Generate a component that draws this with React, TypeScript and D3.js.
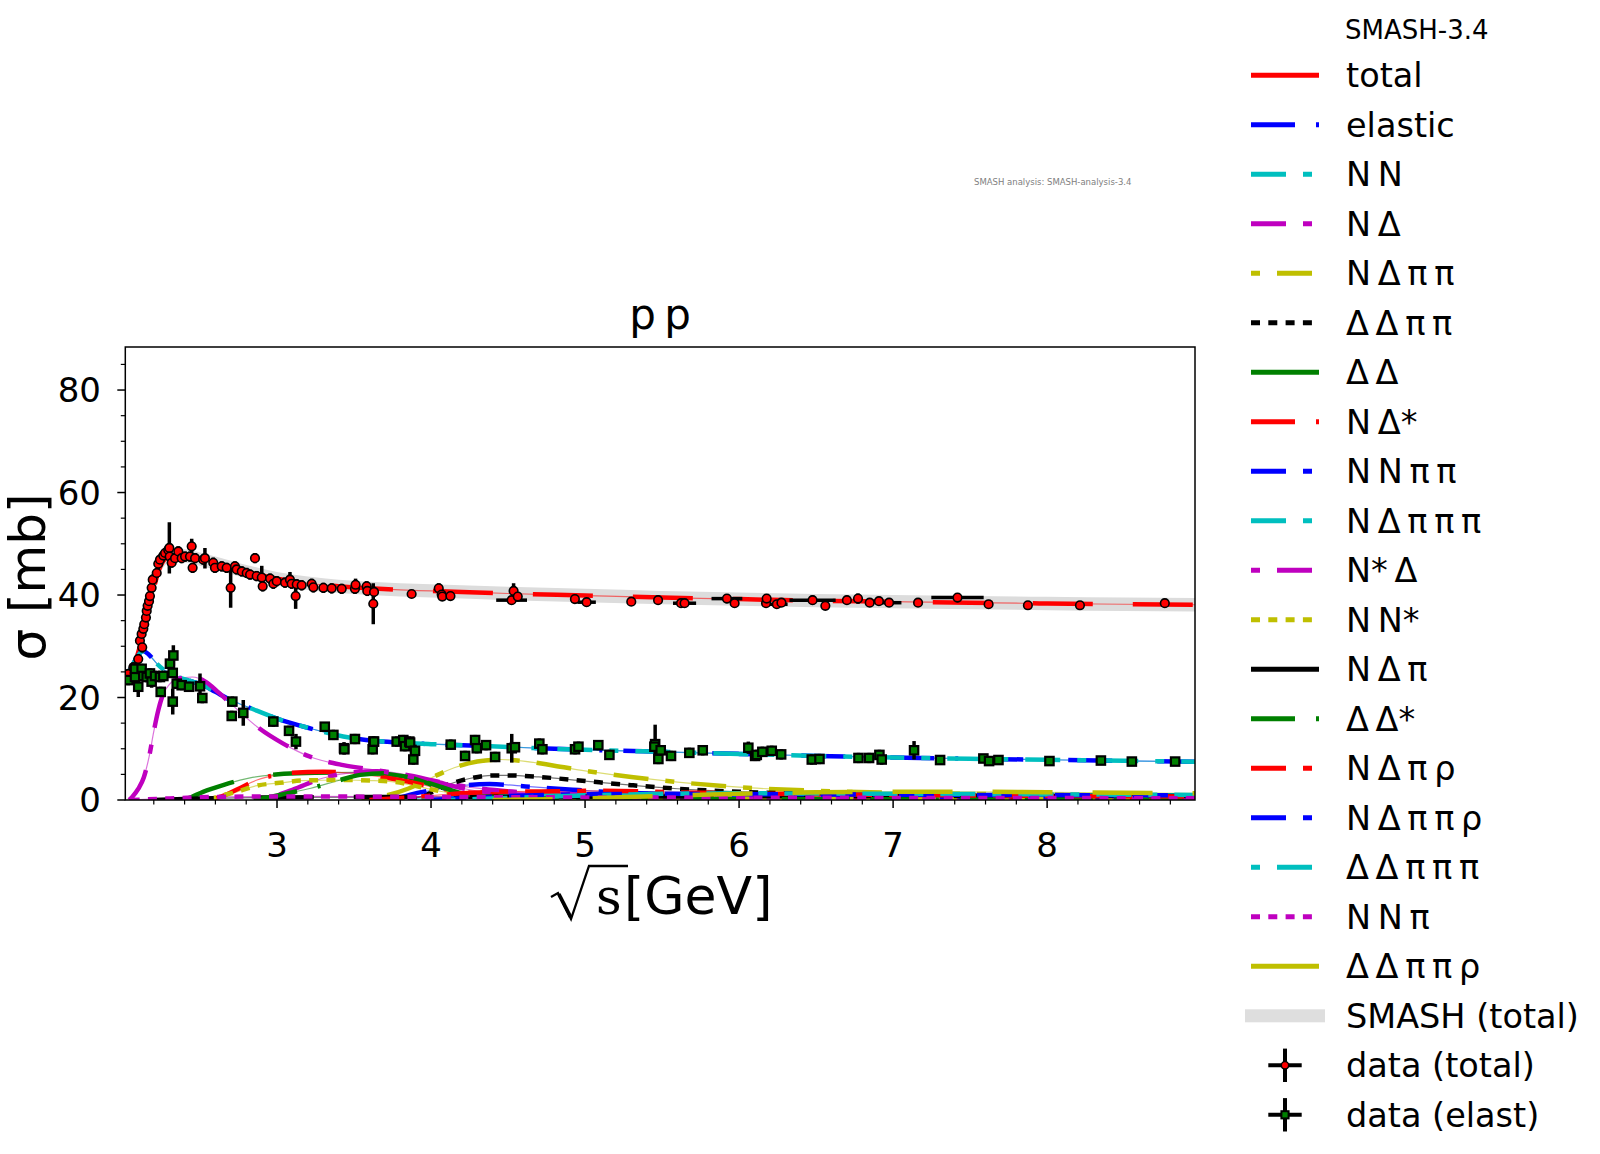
import React from 'react';
import * as d3 from 'd3';

type P = [number, number];

// ---------- axes ----------
const X_DOMAIN: [number, number] = [2.015, 8.96];
const Y_DOMAIN: [number, number] = [0, 88.4];
const xMajorTicks = [3, 4, 5, 6, 7, 8];
const yMajorTicks = [0, 20, 40, 60, 80];
const bandHalfWidth = 1.3;

// ---------- SMASH model curves (sqrt(s) [GeV], sigma [mb]) ----------
const sigmaTotal: P[] = [[2.015,23.6],[2.05,25.2],[2.08,27],[2.11,30],[2.14,33.5],[2.17,37.5],[2.2,41.3],[2.23,44.6],[2.26,46.6],[2.3,47.6],[2.35,47.8],[2.45,47.4],[2.55,46.6],[2.7,45.4],[2.85,44.2],[3.0,43.2],[3.2,42.3],[3.4,41.7],[3.6,41.3],[3.8,41.0],[4.0,40.8],[4.5,40.3],[5.0,39.9],[5.5,39.5],[6.0,39.2],[6.5,38.9],[7.0,38.7],[7.5,38.5],[8.0,38.35],[8.5,38.2],[8.96,38.1]];
const sigmaElastic: P[] = [[2.015,23.8],[2.05,25.6],[2.09,27.8],[2.13,29.1],[2.17,28.3],[2.22,26.6],[2.27,25.3],[2.35,24.1],[2.45,23.1],[2.52,22.4],[2.6,21.1],[2.7,19.5],[2.83,17.9],[3.0,15.9],[3.2,14.1],[3.43,12.4],[3.65,11.5],[3.85,11.1],[4.0,10.9],[4.3,10.6],[4.7,10.1],[5.0,9.8],[5.5,9.4],[6.0,9.0],[6.5,8.6],[7.0,8.3],[7.5,8.05],[8.0,7.85],[8.5,7.65],[8.96,7.45]];
const sigmaNN: P[] = [[2.015,23.8],[2.05,25.6],[2.09,27.8],[2.13,29.1],[2.17,28.3],[2.22,26.6],[2.27,25.3],[2.35,24.1],[2.45,23.1],[2.52,22.4],[2.6,21.1],[2.7,19.5],[2.83,17.9],[3.0,15.9],[3.2,14.1],[3.43,12.4],[3.65,11.5],[3.85,11.1],[4.0,10.9],[4.3,10.6],[4.7,10.1],[5.0,9.8],[5.5,9.4],[6.0,9.0],[6.5,8.6],[7.0,8.3],[7.5,8.05],[8.0,7.85],[8.5,7.65],[8.96,7.45]];
const sigmaNDelta: P[] = [[2.04,0],[2.06,0.6],[2.1,2.2],[2.135,4.4],[2.17,8.5],[2.2,13.4],[2.23,17.6],[2.26,20.6],[2.3,22.5],[2.35,23.6],[2.45,24.0],[2.54,23.0],[2.62,21.0],[2.7,18.8],[2.87,14.3],[3.04,11.0],[3.21,8.5],[3.43,6.8],[3.65,5.8],[3.86,4.8],[4.06,3.5],[4.3,2.3],[4.6,1.5],[5.0,1.1],[5.5,0.9],[6.0,0.75],[7.0,0.6],[8.0,0.5],[8.96,0.45]];
const sigmaNDeltaPiPi: P[] = [[3.55,0],[3.7,0.8],[3.85,2.2],[4.0,4.3],[4.15,6.3],[4.3,7.5],[4.45,7.9],[4.6,7.6],[4.8,6.7],[5.0,5.7],[5.3,4.5],[5.6,3.5],[6.0,2.5],[6.5,1.8],[7.0,1.4],[7.5,1.2],[8.0,1.0],[8.96,0.8]];
const sigmaDeltaDeltaPiPi: P[] = [[3.85,0],[3.95,0.8],[4.1,2.9],[4.25,4.2],[4.4,4.8],[4.5,4.8],[4.7,4.5],[5.0,3.7],[5.3,2.9],[5.6,2.2],[6.0,1.6],[6.5,1.2],[7.0,0.9],[8.0,0.7],[8.96,0.6]];
const sigmaDeltaDelta: P[] = [[2.35,0],[2.42,0.3],[2.52,1.6],[2.65,2.9],[2.84,4.4],[3.13,5.2],[3.5,5.4],[3.83,4.6],[4.0,3.0],[4.11,1.6],[4.25,0.7],[4.5,0.3],[5.0,0.15],[6.0,0.1],[8.96,0.05]];
const sigmaNDeltaStar: P[] = [[2.55,0],[2.64,0.7],[2.75,2.2],[2.87,3.9],[3.0,4.9],[3.1,5.3],[3.3,5.5],[3.5,5.2],[3.68,4.5],[3.85,3.6],[3.94,3.0],[4.11,2.0],[4.3,1.3],[4.6,0.9],[5.0,0.7],[6.0,0.5],[7.0,0.4],[8.96,0.3]];
const sigmaNNPiPi: P[] = [[3.75,0],[3.86,1.0],[4.06,2.2],[4.23,2.9],[4.38,3.1],[4.64,2.6],[4.92,2.0],[5.25,1.4],[5.6,1.1],[6.0,0.9],[6.5,0.75],[7.0,0.65],[8.0,0.55],[8.96,0.5]];
const sigmaNDeltaPiPiPi: P[] = [[3.6,0],[4.0,0.3],[4.5,0.8],[5.0,1.1],[5.5,1.2],[6.5,1.1],[7.5,1.0],[8.96,0.9]];
const sigmaNStarDelta: P[] = [[2.85,0],[2.95,0.5],[3.1,2.0],[3.3,4.3],[3.5,5.4],[3.65,5.6],[3.8,4.9],[4.04,3.5],[4.2,2.3],[4.4,1.4],[4.7,0.9],[5.0,0.7],[6.0,0.5],[7.0,0.4],[8.96,0.3]];
const sigmaNNStar: P[] = [[2.55,0],[2.61,0.6],[2.74,1.6],[2.87,2.8],[3.04,3.4],[3.16,3.8],[3.43,3.9],[3.6,3.8],[3.77,3.5],[3.95,2.4],[4.1,1.5],[4.23,1.0],[4.5,0.6],[5.0,0.4],[6.0,0.3],[8.96,0.2]];
const sigmaNDeltaPi: P[] = [[2.2,0],[2.5,0.3],[3.0,0.5],[4.0,0.6],[5.0,0.65],[6.0,0.7],[7.0,0.75],[8.96,0.8]];
const sigmaDeltaDeltaStar: P[] = [[2.85,0],[2.94,0.5],[3.05,1.2],[3.22,2.3],[3.4,3.8],[3.54,4.9],[3.7,5.2],[3.86,4.4],[4.06,2.6],[4.2,1.3],[4.4,0.6],[4.7,0.3],[5.2,0.2],[6.0,0.15],[8.96,0.1]];
const sigmaNDeltaPiRho: P[] = [[3.6,0],[3.9,0.6],[4.2,1.3],[4.4,1.6],[4.8,1.7],[5.1,1.8],[5.6,1.5],[6.0,1.3],[7.0,1.0],[8.0,0.8],[8.96,0.7]];
const sigmaNDeltaPiPiRho: P[] = [[4.0,0],[4.3,0.5],[4.8,1.0],[5.5,1.2],[6.5,1.1],[7.5,1.0],[8.96,0.9]];
const sigmaDeltaDeltaPiPiPi: P[] = [[4.1,0],[4.5,0.4],[5.0,0.9],[5.5,1.2],[6.0,1.3],[7.0,1.2],[8.0,1.1],[8.96,1.0]];
const sigmaNNPi: P[] = [[2.05,0],[2.3,0.3],[2.6,0.6],[3.0,0.7],[4.0,0.6],[5.0,0.5],[6.0,0.45],[8.96,0.35]];
const sigmaDeltaDeltaPiPiRho: P[] = [[4.4,0],[5.0,0.3],[5.5,0.8],[6.0,1.2],[6.5,1.5],[7.0,1.6],[7.5,1.6],[8.0,1.5],[8.96,1.3]];

// ---------- experimental data ----------
const dataTotalX = [2.024,2.034,2.067,2.099,2.110,2.121,2.125,2.132,2.138,2.149,2.154,2.160,2.169,2.175,2.186,2.193,2.219,2.229,2.240,2.262,2.273,2.294,2.301,2.303,2.316,2.338,2.359,2.381,2.403,2.435,2.446,2.452,2.468,2.521,2.532,2.586,2.597,2.641,2.673,2.699,2.727,2.738,2.771,2.803,2.825,2.857,2.868,2.901,2.907,2.955,2.976,2.998,3.052,3.084,3.095,3.121,3.128,3.160,3.225,3.236,3.301,3.355,3.420,3.506,3.510,3.582,3.586,3.625,3.630,3.874,4.050,4.069,4.073,4.126,4.523,4.536,4.563,4.934,5.010,5.300,5.474,5.623,5.646,5.921,5.971,6.175,6.179,6.245,6.275,6.477,6.560,6.700,6.772,6.848,6.908,6.974,7.162,7.418,7.620,7.875,8.213,8.764];
const dataTotalY = [23.7,24.6,25.9,27.5,31.1,32.4,29.8,33.4,34.3,35.6,36.9,37.9,38.8,39.8,41.4,43.0,44.3,46.1,46.9,47.7,48.2,48.8,49.2,47.5,46.3,47.2,48.5,47.2,47.5,47.5,49.5,45.3,47.2,46.9,47.2,46.3,45.3,45.6,45.3,41.4,45.6,45.0,44.6,44.3,44.0,47.2,43.7,43.4,41.7,43.2,42.2,42.7,42.4,43.0,42.2,39.8,42.1,41.9,42.2,41.5,41.4,41.3,41.2,41.2,42.0,41.7,40.8,38.3,40.6,40.2,41.3,40.1,39.7,39.8,39.0,40.8,39.7,39.2,38.6,38.7,39.0,38.4,38.4,39.3,38.4,38.4,39.3,38.2,38.5,39.0,37.9,39.0,39.3,38.5,38.8,38.5,38.5,39.5,38.2,38.0,38.0,38.4];
const dataTotalYErr = [0.8,0.8,1.0,1.0,1.2,1.0,1.0,1.0,1.0,1.0,1.0,1.0,1.0,1.0,1.0,1.0,1.0,1.0,1.0,1.0,1.0,1.0,5.0,1.0,1.0,1.0,1.0,1.0,1.0,1.0,1.5,1.0,1.0,1.0,2.0,1.0,1.0,1.0,1.0,3.9,1.0,1.0,1.0,1.0,1.0,1.0,1.0,2.3,1.0,1.0,1.0,1.0,1.0,1.5,1.0,2.5,1.0,1.0,1.0,1.0,1.0,1.0,1.0,1.0,1.2,1.0,1.0,4.0,1.0,0.8,1.0,1.0,0.8,0.8,0.8,1.5,0.8,0.8,0.8,0.6,0.6,0.8,0.6,0.9,0.6,0.6,0.9,0.6,0.6,0.9,0.6,0.6,1.0,0.6,0.6,0.6,0.6,0.9,0.6,0.6,0.6,0.8];
const dataTotalXErrIdx = [74, 78, 82, 83, 87, 89, 95, 97];
const dataTotalXErr = [0.10, 0.06, 0.075, 0.10, 0.07, 0.15, 0.08, 0.17];

const dataElastX = [2.034,2.078,2.078,2.099,2.121,2.132,2.154,2.175,2.186,2.208,2.240,2.245,2.262,2.305,2.327,2.323,2.323,2.349,2.381,2.429,2.500,2.515,2.706,2.710,2.781,2.976,3.078,3.123,3.310,3.366,3.435,3.437,3.506,3.621,3.626,3.630,3.777,3.820,3.831,3.859,3.864,3.885,3.896,4.128,4.221,4.286,4.297,4.357,4.416,4.524,4.545,4.703,4.723,4.935,4.957,5.086,5.158,5.455,5.450,5.476,5.491,5.558,5.677,5.764,6.060,6.104,6.115,6.151,6.212,6.273,6.472,6.522,6.775,6.844,6.911,6.926,7.136,7.305,7.586,7.623,7.684,8.015,8.349,8.550,8.831];
const dataElastY = [23.4,24.0,25.6,22.1,25.6,24.2,24.0,24.7,23.1,24.2,24.0,21.1,24.2,26.6,28.2,24.8,19.2,22.7,22.4,22.1,22.2,19.9,16.4,19.2,17.0,15.3,13.5,11.4,14.3,12.7,10.1,9.9,11.9,9.9,11.4,11.4,11.4,11.7,10.5,11.4,11.2,7.9,9.6,10.8,8.6,11.7,10.1,10.7,8.4,10.1,10.3,11.0,9.9,9.9,10.4,10.7,8.8,10.9,10.4,8.0,9.7,8.6,9.2,9.7,10.2,8.6,8.8,9.4,9.6,8.9,7.9,8.0,8.2,8.2,8.8,7.9,9.7,7.8,8.1,7.6,7.8,7.6,7.7,7.5,7.5];
const dataElastYErr = [1.0,1.0,1.0,2.0,1.0,1.0,1.0,1.0,1.2,1.0,1.0,1.0,1.0,1.0,2.0,1.0,2.5,1.0,1.0,1.0,2.5,1.0,1.0,1.0,2.5,1.0,1.0,1.5,0.8,1.0,1.2,1.0,1.0,1.0,1.0,1.0,1.0,1.0,1.0,1.0,1.0,1.0,1.2,1.0,1.0,1.0,1.0,1.0,1.0,2.8,1.0,1.0,1.0,1.0,1.0,1.0,1.0,3.8,1.0,1.0,1.0,1.0,1.0,1.0,1.2,1.0,1.0,1.0,1.0,1.0,1.0,1.0,1.0,1.0,1.0,1.0,1.8,0.8,0.8,0.8,0.8,0.8,0.8,0.8,0.8];

// ---------- legend ----------
const TS = '\u2009';
const channelLabels = ['total','elastic',`N${TS}N`,`N${TS}Δ`,`N${TS}Δ${TS}π${TS}π`,`Δ${TS}Δ${TS}π${TS}π`,`Δ${TS}Δ`,`N${TS}Δ*`,`N${TS}N${TS}π${TS}π`,`N${TS}Δ${TS}π${TS}π${TS}π`,`N*${TS}Δ`,`N${TS}N*`,`N${TS}Δ${TS}π`,`Δ${TS}Δ*`,`N${TS}Δ${TS}π${TS}ρ`,`N${TS}Δ${TS}π${TS}π${TS}ρ`,`Δ${TS}Δ${TS}π${TS}π${TS}π`,`N${TS}N${TS}π`,`Δ${TS}Δ${TS}π${TS}π${TS}ρ`];
const channelColors = ['#ff0000','#0000ff','#00bfbf','#bf00bf','#bfbf00','#000000','#008000','#ff0000','#0000ff','#00bfbf','#bf00bf','#bfbf00','#000000','#008000','#ff0000','#0000ff','#00bfbf','#bf00bf','#bfbf00'];
const channelStyles = ['solid','dashdot','dashed','dashed','longshort','dotted','solid','dashdot','dashed','dashed','longshort','dotted','solid','dashdot','dashed','dashed','longshort','dotted','solid'];
const channelData: P[][] = [sigmaTotal,sigmaElastic,sigmaNN,sigmaNDelta,sigmaNDeltaPiPi,sigmaDeltaDeltaPiPi,sigmaDeltaDelta,sigmaNDeltaStar,sigmaNNPiPi,sigmaNDeltaPiPiPi,sigmaNStarDelta,sigmaNNStar,sigmaNDeltaPi,sigmaDeltaDeltaStar,sigmaNDeltaPiRho,sigmaNDeltaPiPiRho,sigmaDeltaDeltaPiPiPi,sigmaNNPi,sigmaDeltaDeltaPiPiRho];

const legendDash: Record<string, string | undefined> = {
  solid: undefined,
  dashdot: '44 21 3 21',
  dashed: '35 17 9 17',
  longshort: '9 17 35 17',
  dotted: '9 8.3',
};
const plotDash: Record<string, string> = {
  solid: '60 40',
  dashdot: '44 21 3 21',
  dashed: '35 17 9 17',
  longshort: '9 17 35 17',
  dotted: '9 8.3',
};

const FONT = 'DejaVu Sans, sans-serif';

export default function App() {
  const W = 1600, H = 1154;
  const PL = 125.3, PR = 1195, PT = 347, PB = 800;
  const x = d3.scaleLinear().domain(X_DOMAIN).range([PL, PR]);
  const y = d3.scaleLinear().domain(Y_DOMAIN).range([PB, PT]);
  const line = d3.line<P>().x(d => x(d[0])).y(d => y(d[1])).curve(d3.curveMonotoneX);
  const band = d3.area<P>().x(d => x(d[0])).y0(d => y(d[1] - bandHalfWidth)).y1(d => y(d[1] + bandHalfWidth)).curve(d3.curveMonotoneX);

  const xMinor = d3.range(11, 45).filter(k => k % 5 !== 0).map(k => k / 5);
  const yMinor = d3.range(5, 90, 5).filter(v => v % 20 !== 0);

  const legX0 = 1251, legX1 = 1319, legText = 1346;
  const legY = (i: number) => 75.3 + i * 49.5;
  const LFS = 33.5;
  const MR = 4.3;
  const SQ = 8.4;

  return (
    <svg width={W} height={H} viewBox={`0 0 ${W} ${H}`} style={{ position: 'absolute', left: 0, top: 0, background: '#fff' }} fontFamily={FONT}>
      <rect x={0} y={0} width={W} height={H} fill="#fff" />
      <defs>
        <clipPath id="plotclip"><rect x={PL} y={PT} width={PR - PL} height={PB - PT} /></clipPath>
      </defs>

      <text x={974} y={184.5} fontSize={8.5} fill="#808080">SMASH analysis: SMASH-analysis-3.4</text>

      <text x={(PL + PR) / 2} y={329} fontSize={42} textAnchor="middle" fill="#000">{`p${TS}p`}</text>

      <g clipPath="url(#plotclip)">
        <path d={band(sigmaTotal) || ''} fill="#dcdcdc" stroke="none" />
        {channelData.map((d, i) => (
          <path key={'thin' + i} d={line(d) || ''} fill="none" stroke={channelColors[i]} strokeWidth={1.2} strokeOpacity={0.55} />
        ))}
        {channelData.map((d, i) => (
          <path key={'thick' + i} d={line(d) || ''} fill="none" stroke={channelColors[i]} strokeWidth={4.5} strokeDasharray={plotDash[channelStyles[i]]} />
        ))}
        {dataTotalX.map((vx, i) => {
          const xi = dataTotalXErrIdx.indexOf(i);
          return (
            <g key={'te' + i} stroke="#000" strokeWidth={3.5}>
              <line x1={x(vx)} x2={x(vx)} y1={y(dataTotalY[i] - dataTotalYErr[i])} y2={y(dataTotalY[i] + dataTotalYErr[i])} />
              {xi >= 0 && <line x1={x(vx - dataTotalXErr[xi])} x2={x(vx + dataTotalXErr[xi])} y1={y(dataTotalY[i])} y2={y(dataTotalY[i])} />}
            </g>
          );
        })}
        {dataTotalX.map((vx, i) => (
          <circle key={'tc' + i} cx={x(vx)} cy={y(dataTotalY[i])} r={MR} fill="#ff0000" stroke="#000" strokeWidth={1.6} />
        ))}
        {dataElastX.map((vx, i) => (
          <line key={'ee' + i} x1={x(vx)} x2={x(vx)} y1={y(dataElastY[i] - dataElastYErr[i])} y2={y(dataElastY[i] + dataElastYErr[i])} stroke="#000" strokeWidth={3.5} />
        ))}
        {dataElastX.map((vx, i) => (
          <rect key={'es' + i} x={x(vx) - SQ / 2} y={y(dataElastY[i]) - SQ / 2} width={SQ} height={SQ} fill="#008000" stroke="#000" strokeWidth={2.2} />
        ))}
      </g>

      {/* frame */}
      <rect x={PL} y={PT} width={PR - PL} height={PB - PT} fill="none" stroke="#000" strokeWidth={1.5} />

      {/* x ticks */}
      {xMajorTicks.map(t => (
        <g key={'xt' + t}>
          <line x1={x(t)} x2={x(t)} y1={PB} y2={PB + 8} stroke="#000" strokeWidth={1.5} />
          <text x={x(t)} y={857} fontSize={34} textAnchor="middle" fill="#000">{t}</text>
        </g>
      ))}
      {xMinor.map(t => (
        <line key={'xm' + t} x1={x(t)} x2={x(t)} y1={PB} y2={PB + 4.5} stroke="#000" strokeWidth={1.2} />
      ))}
      {/* y ticks */}
      {yMajorTicks.map(t => (
        <g key={'yt' + t}>
          <line x1={PL - 8} x2={PL} y1={y(t)} y2={y(t)} stroke="#000" strokeWidth={1.5} />
          <text x={101} y={y(t) + 12.4} fontSize={34} textAnchor="end" fill="#000">{t}</text>
        </g>
      ))}
      {yMinor.map(t => (
        <line key={'ym' + t} x1={PL - 4.5} x2={PL} y1={y(t)} y2={y(t)} stroke="#000" strokeWidth={1.2} />
      ))}

      {/* axis labels */}
      <text transform={`translate(45,577) rotate(-90)`} fontSize={50} textAnchor="middle" fill="#000">σ [mb]</text>
      <g>
        <path d="M551,897 L558,893 L571,919 L589,866 L628,866" fill="none" stroke="#000" strokeWidth={2.3} strokeLinejoin="miter" />
        <path d="M558.8,894 L570.6,917" fill="none" stroke="#000" strokeWidth={3.8} />
        <text x={596} y={914} fontSize={50} fontFamily="DejaVu Serif, serif" fill="#000">s</text>
        <text x={624} y={914} fontSize={52} fill="#000">[GeV]</text>
      </g>

      {/* legend */}
      <text x={1345} y={39.3} fontSize={26} fill="#000">SMASH-3.4</text>
      {channelLabels.map((lab, i) => (
        <g key={'lg' + i}>
          <line x1={legX0} x2={legX1} y1={legY(i)} y2={legY(i)} stroke={channelColors[i]} strokeWidth={5} strokeDasharray={legendDash[channelStyles[i]]} />
          <text x={legText} y={legY(i) + 11.7} fontSize={LFS} fill="#000">{lab}</text>
        </g>
      ))}
      <rect x={1245} y={legY(19) - 6.5} width={80} height={13} fill="#dedede" />
      <text x={legText} y={legY(19) + 11.7} fontSize={LFS} fill="#000">SMASH (total)</text>
      <g stroke="#000" strokeWidth={4}>
        <line x1={1285} x2={1285} y1={legY(20) - 16.7} y2={legY(20) + 16.7} />
        <line x1={1268.3} x2={1301.7} y1={legY(20)} y2={legY(20)} />
      </g>
      <circle cx={1285} cy={legY(20)} r={3.7} fill="#ff0000" stroke="#000" strokeWidth={1.5} />
      <text x={legText} y={legY(20) + 11.7} fontSize={LFS} fill="#000">data (total)</text>
      <g stroke="#000" strokeWidth={4}>
        <line x1={1285} x2={1285} y1={legY(21) - 16.7} y2={legY(21) + 16.7} />
        <line x1={1268.3} x2={1301.7} y1={legY(21)} y2={legY(21)} />
      </g>
      <rect x={1285 - 3.6} y={legY(21) - 3.6} width={7.2} height={7.2} fill="#008000" stroke="#000" strokeWidth={2} />
      <text x={legText} y={legY(21) + 11.7} fontSize={LFS} fill="#000">data (elast)</text>
    </svg>
  );
}
